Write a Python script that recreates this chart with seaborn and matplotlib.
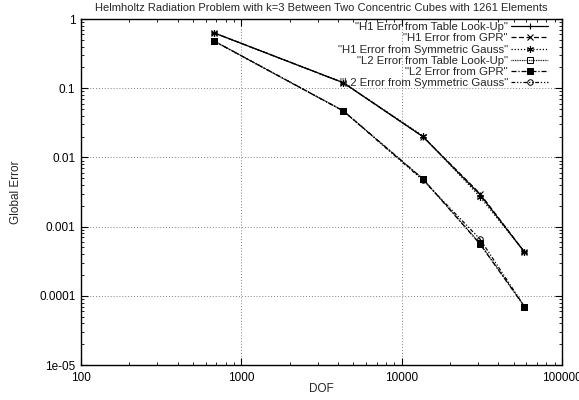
import numpy as np
import pandas as pd
import matplotlib
matplotlib.use("Agg")
import matplotlib.pyplot as plt
import matplotlib.ticker as mticker
import seaborn as sns

dof = [676, 4325, 13550, 30800, 58300]
h1_table = [0.63, 0.120, 0.020, 0.0029, 0.00043]
h1_gpr = [0.63, 0.120, 0.020, 0.0030, 0.00043]
h1_sym = [0.63, 0.120, 0.0205, 0.0027, 0.00043]
l2_table = [0.48, 0.047, 0.0049, 0.00057, 0.000070]
l2_gpr = [0.48, 0.047, 0.0049, 0.00056, 0.000070]
l2_sym = [0.48, 0.047, 0.0047, 0.00066, 0.000070]

labels = ['"H1 Error from Table Look-Up"', '"H1 Error from GPR"',
          '"H1 Error from Symmetric Gauss"', '"L2 Error from Table Look-Up"',
          '"L2 Error from GPR"', '"L2 Error from Symmetric Gauss"']
series = [h1_table, h1_gpr, h1_sym, l2_table, l2_gpr, l2_sym]

title = "Helmholtz Radiation Problem with k=3 Between Two Concentric Cubes with 1261 Elements"

sns.set_theme(style="ticks")
plt.rcParams['font.family'] = ['Liberation Sans', 'DejaVu Sans']
plt.rcParams['xtick.direction'] = 'in'
plt.rcParams['ytick.direction'] = 'in'

df = pd.concat([pd.DataFrame({"DOF": dof, "err": s, "series": lab})
                for s, lab in zip(series, labels)], ignore_index=True)

fig = plt.figure(figsize=(5.79, 4.0), dpi=100)
ax = fig.add_axes([81/579, 1-365/400, (562-81)/579, (365-19)/400])

styles = [
    dict(linestyle='-', marker='+', mfc='none', ms=5, mew=0.8),
    dict(linestyle=(0, (4, 2)), marker='x', mfc='none', ms=4, mew=0.8),
    dict(linestyle=(0, (1, 1.5)), marker=(6, 2, 0), mfc='none', ms=5, mew=0.8),
    dict(linestyle=(0, (0.7, 0.7)), marker='s', mfc='none', ms=4, mew=0.7),
    dict(linestyle=(0, (4, 1.5, 1, 1.5)), marker='s', mfc='black', ms=4.5, mew=0.7),
    dict(linestyle=(0, (3, 1.5, 1, 1.5, 1, 1.5)), marker='o', mfc='none', ms=4, mew=0.7),
]
for lab, st in zip(labels, styles):
    sub = df[df["series"] == lab]
    sns.lineplot(data=sub, x="DOF", y="err", ax=ax, color='black', lw=0.9,
                 label=lab, estimator=None, sort=False, mec='black', **st)

ax.set_xscale('log')
ax.set_yscale('log')
ax.set_xlim(100, 100000)
ax.set_ylim(1e-5, 1)
fmt = mticker.FuncFormatter(lambda v, p: '%g' % v)
ax.xaxis.set_major_formatter(fmt)
ax.yaxis.set_major_formatter(fmt)
ax.xaxis.set_minor_formatter(mticker.NullFormatter())
ax.yaxis.set_minor_formatter(mticker.NullFormatter())
ax.tick_params(which='both', top=True, right=True, labelsize=8.5, colors='black')
ax.tick_params(which='major', length=5, width=0.8)
ax.tick_params(axis='x', which='major', pad=5)
ax.tick_params(axis='y', which='major', pad=4)
ax.tick_params(which='minor', length=2.5, width=0.6)
for sp in ax.spines.values():
    sp.set_linewidth(1.0)
    sp.set_color('black')
ax.grid(True, which='major', linestyle=(0, (1, 2)), color='#808080', lw=0.7)

ax.set_xlabel("DOF", fontsize=8.5, labelpad=-1)
ax.set_ylabel("Global Error", fontsize=8.5, labelpad=12)
ax.set_title(title, fontsize=8, pad=6)

leg = ax.legend(loc='upper right', frameon=False, fontsize=8.2, markerfirst=False,
                handlelength=3.2, handletextpad=0.3, labelspacing=0.1,
                borderaxespad=0, borderpad=0.2,
                bbox_to_anchor=(550/579, 1-20/400), bbox_transform=fig.transFigure)

fig.savefig("out.png", dpi=100)
